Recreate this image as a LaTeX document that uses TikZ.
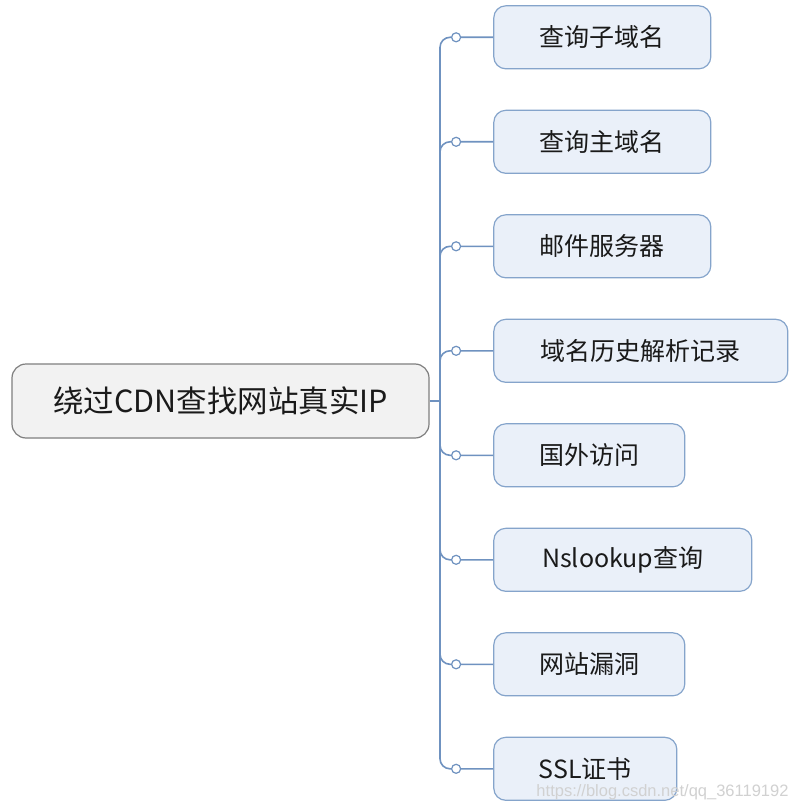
\documentclass[tikz,border=0pt]{standalone}
\usepackage{fontspec}
\setmainfont{Noto Sans CJK SC}
\newfontfamily\wmfont{Liberation Sans}
\usepackage{tikz}
\usetikzlibrary{matrix, positioning}
\usepackage{xcolor}

\definecolor{linkblue}{HTML}{6F92C0}
\definecolor{leaffill}{HTML}{EAF0F9}
\definecolor{leafdraw}{HTML}{85A4CB}
\definecolor{rootfill}{HTML}{F2F2F2}
\definecolor{rootdraw}{HTML}{7F7F7F}
\definecolor{inkgray}{HTML}{1A1A1A}

\tikzset{
  rootbox/.style={draw=rootdraw, fill=rootfill, line width=1.2pt, rounded corners=14pt,
    minimum width=417pt, minimum height=74pt, inner sep=0pt,
    font=\fontsize{30.5}{30.5}\selectfont, text=inkgray},
  leaf/.style={draw=leafdraw, fill=leaffill, line width=1.2pt, rounded corners=12pt,
    minimum height=63pt, inner sep=0pt, anchor=west,
    font=\fontsize{25}{25}\selectfont, text=inkgray},
  dot/.style={circle, draw=linkblue, fill=white, line width=1.2pt,
    minimum size=9pt, inner sep=0pt},
  link/.style={draw=linkblue, line width=1.6pt, rounded corners=10pt}
}

\begin{document}
\begin{tikzpicture}[x=1pt, y=-1pt]
\path[fill=white, use as bounding box] (0,0) rectangle (798,805);
%
\matrix (m) [matrix of nodes, anchor=north west, inner sep=0pt,
             row sep={104.5pt,between origins},
             nodes={leaf}] at (493,5)
{
|[minimum width=217pt] (b1)| 查询子域名 \\
|[minimum width=217pt] (b2)| 查询主域名 \\
|[minimum width=217pt] (b3)| 邮件服务器 \\
|[minimum width=294pt] (b4)| 域名历史解析记录 \\
|[minimum width=191pt] (b5)| 国外访问 \\
|[minimum width=258pt] (b6)| Nslookup查询 \\
|[minimum width=191pt] (b7)| 网站漏洞 \\
|[minimum width=183pt] (b8)| SSL证书 \\
};
%
\coordinate (hub) at (440,401);
\node[rootbox] (root) at (220.5,401) {绕过CDN查找网站真实IP};
\draw[link] (root) -- (hub);
%
\node[dot, left=32pt of b1] (d1) {};
\node[dot, left=32pt of b2] (d2) {};
\node[dot, left=32pt of b3] (d3) {};
\node[dot, left=32pt of b4] (d4) {};
\node[dot, left=32pt of b5] (d5) {};
\node[dot, left=32pt of b6] (d6) {};
\node[dot, left=32pt of b7] (d7) {};
\node[dot, left=32pt of b8] (d8) {};
%
\draw[link] (hub) |- (d1) -- (b1);
\draw[link] (hub) |- (d2) -- (b2);
\draw[link] (hub) |- (d3) -- (b3);
\draw[link] (hub) |- (d4) -- (b4);
\draw[link] (hub) |- (d5) -- (b5);
\draw[link] (hub) |- (d6) -- (b6);
\draw[link] (hub) |- (d7) -- (b7);
\draw[link] (hub) |- (d8) -- (b8);
%
\node[anchor=south east, text=black!18, font=\wmfont\fontsize{16.5}{16.5}\selectfont]
  (wm) at (792,803) {https://blog.csdn.net/qq\_36119192};
\end{tikzpicture}
\end{document}
